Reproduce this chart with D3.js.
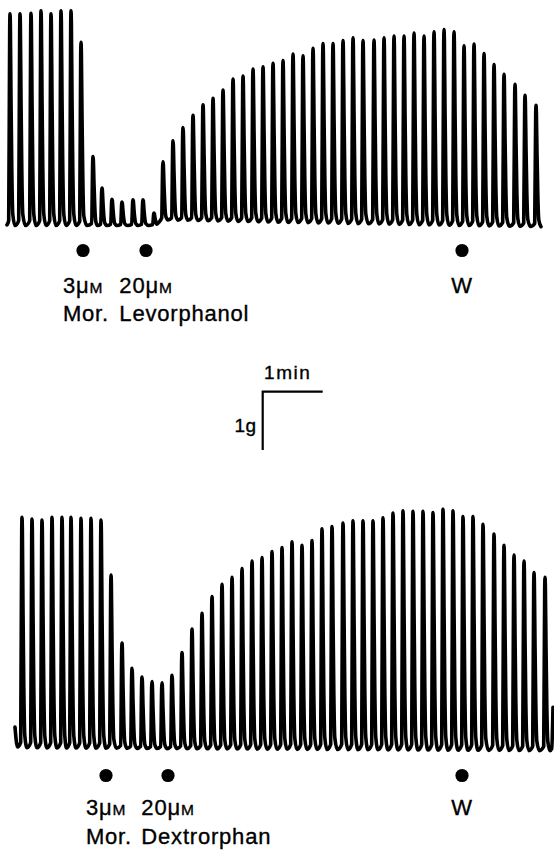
<!DOCTYPE html>
<html>
<head>
<meta charset="utf-8">
<script src="https://cdn.jsdelivr.net/npm/d3@7"></script>
<style>
  html, body { margin: 0; padding: 0; background: #fff; }
  svg { display: block; }
  text { font-family: "Liberation Sans", Arial, Helvetica, sans-serif; fill: #000; stroke: #000; stroke-width: 0.35px; }
</style>
</head>
<body>
<svg id="chart" width="554" height="850"></svg>
<script>
// Twitch recordings, stimulation every ~10 s. Time in seconds, tension in grams.

// Upper record: morphine, then levorphanol, then wash-out
const topPeakTimes = [0,10,21,31,41,51,61,71,83,92,102,112,123,133,144,153,163,173,183,193,
  203,213,223,233,243,253,263,273,283,293,303,313,323,333,343,353,364,374,384,394,
  404,414,424,434,444,454,464,474,484,494,505,515,526];
const topPeakTension = [3.64,3.64,3.65,3.69,3.64,3.69,3.69,3.15,1.19,0.65,0.46,0.41,0.45,0.45,0.22,1.10,1.46,1.69,1.90,2.08,
  2.19,2.33,2.52,2.57,2.69,2.73,2.79,2.84,2.95,2.92,3.05,3.13,3.13,3.18,3.23,3.18,3.19,3.23,3.26,3.26,
  3.31,3.26,3.33,3.37,3.33,3.09,3.12,2.96,2.77,2.60,2.43,2.24,2.07];
const topResting = [[-3,0.02],[147,0.02],[150,0.12],[270,0.077],[410,0.034],[528,0.0]];
const topTraceEnds = [[-3,0.02],[528,0.0]];
const topEvents = [
  { t: 73,  lines: ["3μM", "Mor."] },
  { t: 136, lines: ["20μM", "Levorphanol"] },
  { t: 452, lines: ["W"] }
];

// Lower record: morphine, then dextrorphan, then wash-out
const bottomPeakTimes = [12,22,32,42,52,61,71,81,91,101,112,122,132,142,152,162,172,182,192,202,
  212,222,232,242,252,262,272,282,292,302,312,322,333,343,353,363,373,383,393,403,
  413,423,433,443,453,463,473,484,494,504,514,524,535];
const bottomPeakTension = [4.01,3.98,3.96,4.01,4.01,4.01,3.99,3.99,3.96,3.02,1.85,1.42,1.27,1.19,1.17,1.30,1.69,2.09,2.36,2.65,
  2.86,2.98,3.13,3.26,3.32,3.42,3.49,3.59,3.53,3.61,3.81,3.85,3.91,3.95,3.95,3.95,4.00,4.08,4.12,4.11,
  4.11,4.09,4.15,4.12,4.02,4.02,3.89,3.72,3.53,3.36,3.26,3.06,2.98];
const bottomResting = [[5,0.069],[260,0.043],[543,0.017]];
const bottomTraceEnds = [[5,0.41],[543,0.75]];
const bottomEvents = [
  { t: 96,  lines: ["3μM", "Mor."] },
  { t: 158, lines: ["20μM", "Dextrorphan"] },
  { t: 452, lines: ["W"] }
];

// Calibration bar values
const scaleBarSeconds = 60;
const scaleBarGrams = 1;
const scaleBarLabels = ["1min", "1g"];

// ---- layout ----
const pxPerGram = 58.3;
const svg = d3.select("#chart");

const x = d3.scaleLinear().domain([0, 60]).range([10, 70]);

const panels = [
  { peaksT: topPeakTimes, peaksG: topPeakTension, resting: topResting, ends: topTraceEnds,
    events: topEvents, zeroY: 226, dotY: 250.5, line1Y: 293, line2Y: 321, endsRising: false },
  { peaksT: bottomPeakTimes, peaksG: bottomPeakTension, resting: bottomResting, ends: bottomTraceEnds,
    events: bottomEvents, zeroY: 751, dotY: 775.5, line1Y: 815, line2Y: 844, endsRising: true }
];

// twitch waveform: time offset (s) and fraction of developed tension
const twitchShape = [[-1.3, 0.02], [-0.3, 0.93], [0, 1], [0.35, 0.95], [1.0, 0.6], [1.8, 0.26], [2.8, 0.05]];

const line = d3.line().x(d => x(d[0])).curve(d3.curveMonotoneX);

panels.forEach(p => {
  const y = d3.scaleLinear().domain([0, 1]).range([p.zeroY, p.zeroY - pxPerGram]);
  const rest = d3.scaleLinear().domain(p.resting.map(d => d[0])).range(p.resting.map(d => d[1])).clamp(true);

  const pts = [];
  const [start, end] = p.ends;
  pts.push(start);
  if (start[1] > rest(start[0]) + 0.05) pts.push([start[0] + 2.5, rest(start[0] + 2.5)]);
  p.peaksT.forEach((t, i) => {
    const next = i < p.peaksT.length - 1 ? p.peaksT[i + 1] : null;
    const base = rest(t);
    const amp = p.peaksG[i] - base;
    twitchShape.forEach(([dt, f]) => pts.push([t + dt, base + f * amp]));
    if (next !== null) {
      const mid = t + Math.max(4, (next - t) * 0.5);
      pts.push([mid, rest(mid) - 0.012]);
    } else {
      pts.push([t + 5, rest(t + 5) - 0.012]);
    }
  });
  if (p.endsRising) {
    pts.push([end[0] - 1.3, rest(end[0]) + 0.02]);
  }
  pts.push(end);
  const clean = pts.filter((d, i) => i === 0 || d[0] > pts[i - 1][0]);

  line.y(d => y(d[1]));
  svg.append("path")
    .attr("d", line(clean))
    .attr("fill", "none")
    .attr("stroke", "#000")
    .attr("stroke-width", 3.6)
    .attr("stroke-linejoin", "round")
    .attr("stroke-linecap", "round");

  // event markers and drug labels
  const g = svg.append("g");
  p.events.forEach(ev => {
    const cx = x(ev.t);
    g.append("circle").attr("cx", cx).attr("cy", p.dotY).attr("r", 6.6).attr("fill", "#000");
    const t1 = g.append("text")
      .attr("x", cx).attr("y", p.line1Y)
      .attr("text-anchor", "middle")
      .style("font-size", "22px").style("letter-spacing", "0.8px");
    const m = ev.lines[0].match(/^(.*μ)(M)$/);
    if (m) {
      t1.append("tspan").text(m[1]);
      t1.append("tspan").text(m[2]).style("font-size", "15.5px");
    } else {
      t1.text(ev.lines[0]);
    }
    if (ev.lines[1]) {
      const bb = t1.node().getBBox();
      g.append("text")
        .attr("x", bb.x).attr("y", p.line2Y)
        .style("font-size", "22px").style("letter-spacing", "0.8px")
        .text(ev.lines[1]);
    }
  });
});

// calibration bar
const barX0 = 262.7, barY0 = 391.7;
const barLen = x(scaleBarSeconds) - x(0);
const barH = scaleBarGrams * pxPerGram;
svg.append("path")
  .attr("d", d3.line()([[barX0 + barLen, barY0], [barX0, barY0], [barX0, barY0 + barH]]))
  .attr("fill", "none").attr("stroke", "#000").attr("stroke-width", 2.2);
svg.append("text")
  .attr("x", barX0 + barLen / 2 - 5).attr("y", barY0 - 13)
  .attr("text-anchor", "middle")
  .style("font-size", "19px").style("letter-spacing", "1.5px")
  .text(scaleBarLabels[0]);
svg.append("text")
  .attr("x", barX0 - 6).attr("y", barY0 + 40)
  .attr("text-anchor", "end")
  .style("font-size", "19px").style("letter-spacing", "0.5px")
  .text(scaleBarLabels[1]);
</script>
</body>
</html>
